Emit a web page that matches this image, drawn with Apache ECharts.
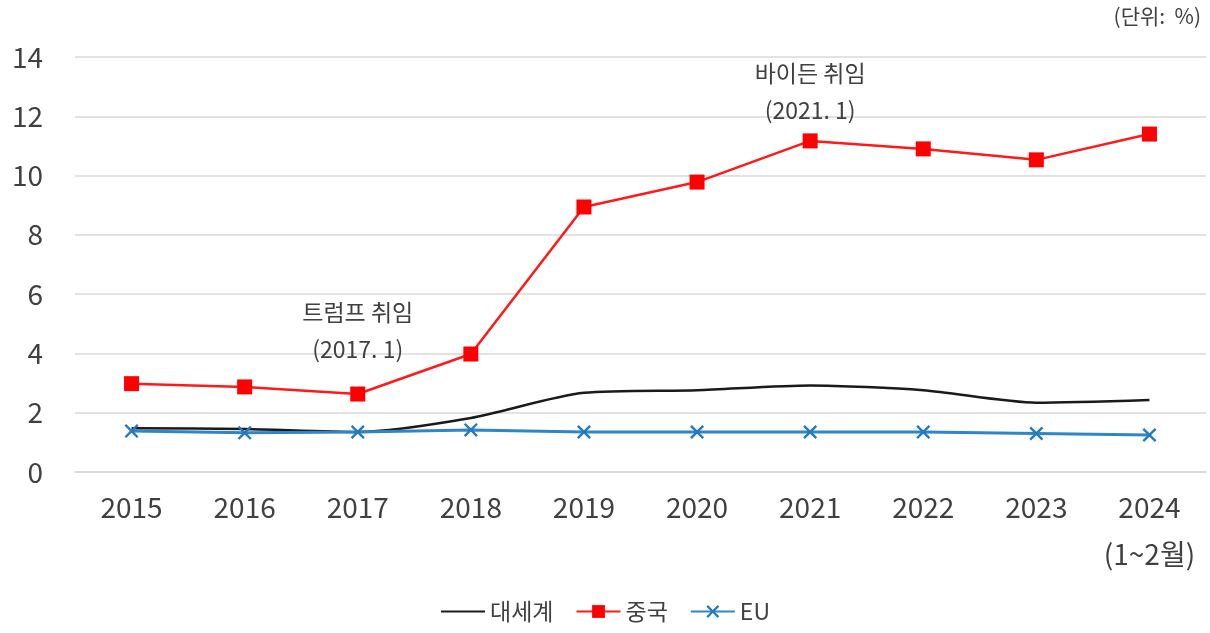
<!DOCTYPE html>
<html>
<head>
<meta charset="utf-8">
<script src="https://cdn.jsdelivr.net/npm/echarts@6/dist/echarts.min.js"></script>
<style>
  html, body { margin: 0; padding: 0; background: #fff; }
  #chart { width: 1210px; height: 633px; }
</style>
</head>
<body>
<div id="chart"></div>
<script>
var years = ["2015", "2016", "2017", "2018", "2019", "2020", "2021", "2022", "2023", "2024\n(1~2월)"];
var world = [1.48, 1.45, 1.35, 1.82, 2.67, 2.76, 2.92, 2.76, 2.34, 2.43];
var china = [2.98, 2.87, 2.63, 3.98, 8.94, 9.78, 11.17, 10.9, 10.53, 11.4];
var eu = [1.38, 1.32, 1.35, 1.42, 1.35, 1.35, 1.35, 1.35, 1.3, 1.25];
var notes = { 2: "트럼프 취임\n(2017. 1)", 6: "바이든 취임\n(2021. 1)" };
var noteGap = { 2: 19, 6: 5 };

var font = "'Noto Sans CJK KR', 'Noto Sans', sans-serif";
var textColor = "#404040";
var xMark = "path://M0,1.2 L1.2,0 L5,3.8 L8.8,0 L10,1.2 L6.2,5 L10,8.8 L8.8,10 L5,6.2 L1.2,10 L0,8.8 L3.8,5 Z";

var chinaData = china.map(function (v, i) {
  if (!notes[i]) return v;
  return {
    value: v,
    label: {
      show: true,
      position: "top",
      distance: noteGap[i],
      formatter: notes[i],
      fontFamily: font,
      fontSize: 23,
      lineHeight: 37,
      color: textColor
    }
  };
});

var chart = echarts.init(document.getElementById("chart"));
chart.setOption({
  animation: false,
  textStyle: { fontFamily: font },
  grid: { left: 75, right: 4, top: 57, bottom: 161, containLabel: false },
  graphic: [{
    type: "text",
    right: 9,
    top: 6,
    style: { text: "(단위:  %)", font: "21px " + font, fill: textColor }
  }],
  legend: {
    bottom: 5,
    left: "center",
    itemWidth: 44,
    itemHeight: 16,
    itemGap: 22,
    textStyle: { fontSize: 23, color: textColor, fontFamily: font },
    data: [
      { name: "대세계", itemStyle: { opacity: 0 } },
      { name: "중국" },
      { name: "EU" }
    ]
  },
  xAxis: {
    type: "category",
    data: years,
    boundaryGap: true,
    axisLine: { lineStyle: { color: "#d9d9d9", width: 1.5 } },
    axisTick: { show: false },
    axisLabel: {
      interval: 0,
      hideOverlap: false,
      fontSize: 28,
      color: textColor,
      margin: 12,
      lineHeight: 47,
      fontFamily: font
    }
  },
  yAxis: {
    type: "value",
    min: 0,
    max: 14,
    interval: 2,
    axisLine: { show: false },
    axisTick: { show: false },
    splitLine: { lineStyle: { color: "#d9d9d9", width: 1.5 } },
    axisLabel: { fontSize: 28, color: textColor, margin: 32, fontFamily: font }
  },
  series: [
    {
      name: "대세계",
      type: "line",
      data: world,
      smooth: 0.25,
      symbol: "none",
      lineStyle: { color: "#1a1a1a", width: 2.5 },
      itemStyle: { color: "#1a1a1a" },
      z: 2
    },
    {
      name: "중국",
      type: "line",
      data: chinaData,
      symbol: "rect",
      symbolSize: 15,
      lineStyle: { color: "#ff1a1a", width: 2.5 },
      itemStyle: { color: "#ff0000" },
      z: 3
    },
    {
      name: "EU",
      type: "line",
      data: eu,
      symbol: xMark,
      symbolSize: 14,
      lineStyle: { color: "#2e86c8", width: 3 },
      itemStyle: { color: "#2379bd" },
      z: 4
    }
  ]
});
window.addEventListener("resize", function () { chart.resize(); });
</script>
</body>
</html>
